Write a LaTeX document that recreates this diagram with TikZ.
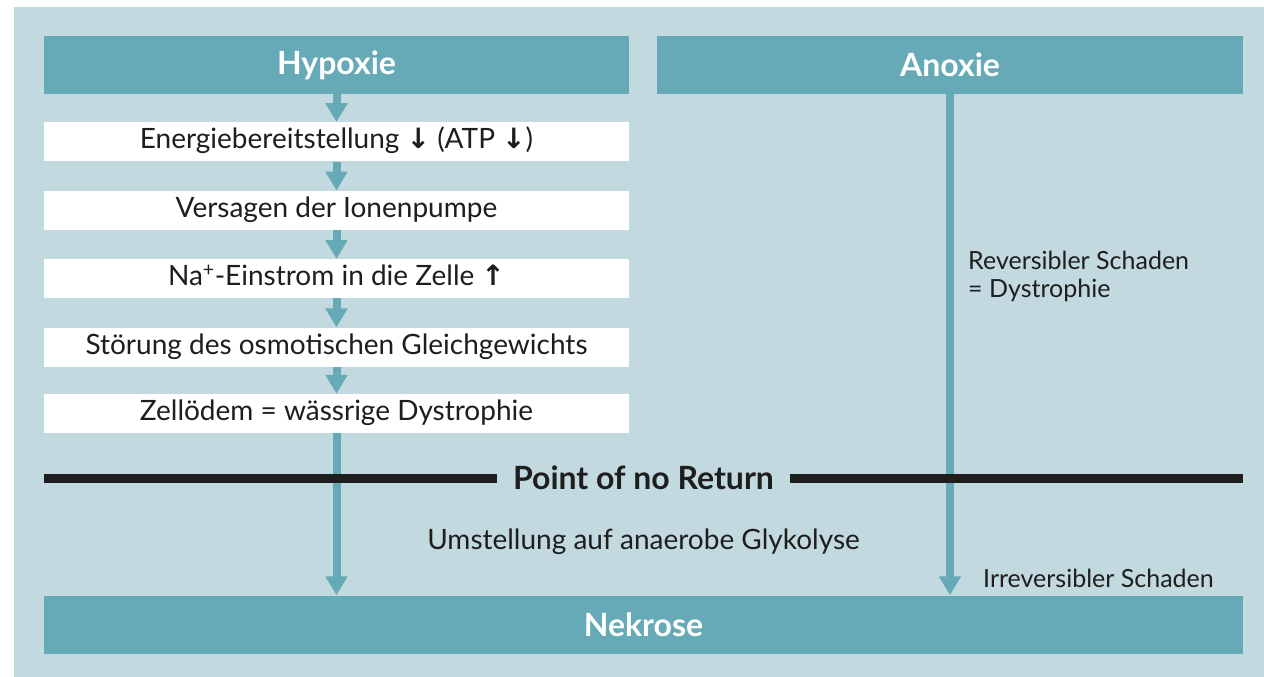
\documentclass[tikz,border=0pt]{standalone}
\usepackage{fontspec}
\setmainfont{Lato}
\newfontfamily\arrowfont{DejaVu Sans}
\usetikzlibrary{positioning,arrows.meta}

\definecolor{panel}{HTML}{C2D9DF}
\definecolor{headteal}{HTML}{67AAB7}
\definecolor{ink}{HTML}{1E1E1E}

\newcommand{\dn}{{\arrowfont\bfseries ↓}}
\newcommand{\up}{{\arrowfont\bfseries ↑}}

\tikzset{
  head/.style={fill=headteal, text=white, inner sep=0pt, minimum height=58pt,
    font=\bfseries\fontsize{32}{36}\selectfont},
  stepbox/.style={fill=white, text=ink, inner sep=0pt, minimum width=585pt,
    minimum height=39pt, text height=21pt, text depth=7pt,
    font=\fontsize{28}{32}\selectfont},
  note/.style={text=ink, inner sep=0pt, font=\fontsize{25}{28}\selectfont},
  flow/.style={headteal, line width=8pt, -{Triangle[width=21pt,length=19pt]}},
}

\begin{document}
\begin{tikzpicture}[x=1pt,y=-1pt]
  \useasboundingbox (0,0) rectangle (1264,677);
  \fill [panel] (14,7) rectangle (1264,677);

  % top headers
  \node [head, minimum width=585pt] (hyp)  at (336.5,65) {Hypoxie};
  \node [head, minimum width=586pt] (anox) at (950,65)   {Anoxie};

  % hypoxia chain
  \node [stepbox, below=28pt of hyp] (s1) {Energiebereitstellung \dn\ (ATP \dn)};
  \node [stepbox, below=29pt of s1]  (s2) {Versagen der Ionenpumpe};
  \node [stepbox, below=29pt of s2]  (s3) {Na\textsuperscript{+}-Einstrom in die Zelle \up};
  \node [stepbox, below=29pt of s3]  (s4) {Störung des osmotischen Gleichgewichts};
  \node [stepbox, below=27pt of s4]  (s5) {Zellödem = wässrige Dystrophie};

  \node [head, minimum width=1199pt] (nek) at (643.5,624.5) {Nekrose};

  \foreach \a/\b in {hyp/s1,s1/s2,s2/s3,s3/s4,s4/s5}
    \draw [flow] (\a) -- (\b);
  \draw [flow] (s5.south) -- (s5.south |- nek.north);
  \draw [flow] (anox.south) -- (anox.south |- nek.north);

  % point of no return
  \node [note, font=\bfseries\fontsize{32}{36}\selectfont, fill=panel,
    inner xsep=16pt, inner ysep=6pt] (ponr) at (643.5,478) {Point of no Return};
  \draw [ink, line width=9pt] (nek.west |- ponr) -- (ponr.west);
  \draw [ink, line width=9pt] (ponr.east) -- (nek.east |- ponr);

  \node [note, anchor=north west, align=left] (rev) at (968,251)
    {Reversibler Schaden\\= Dystrophie};
  \node [note, anchor=base, font=\fontsize{28}{32}\selectfont] (glyk) at (643.5,549)
    {Umstellung auf anaerobe Glykolyse};
  \node [note, anchor=base west] (irrev) at (983,587) {Irreversibler Schaden};
\end{tikzpicture}
\end{document}
